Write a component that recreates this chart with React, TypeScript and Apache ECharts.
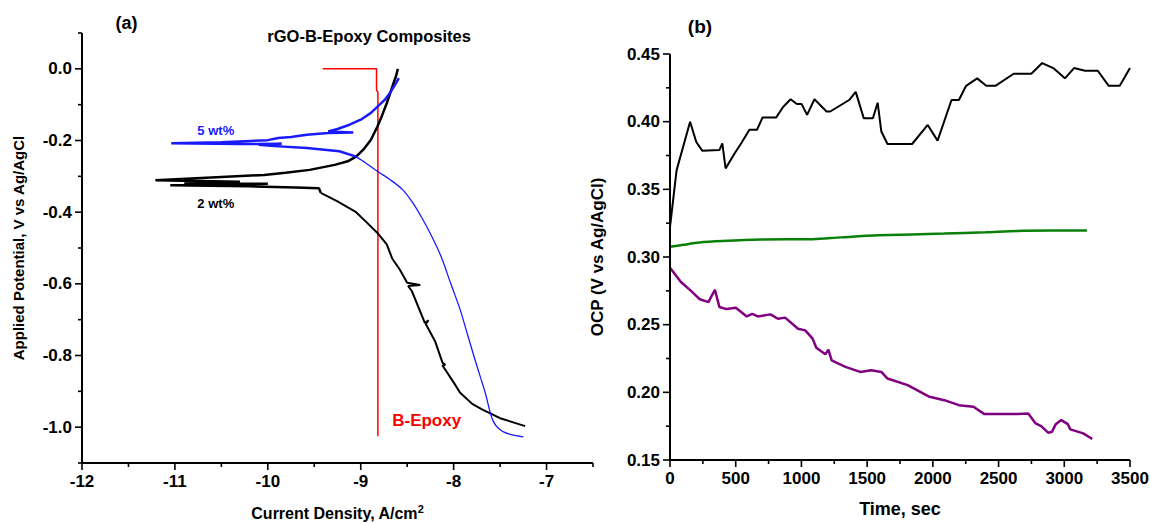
import React, { useEffect, useRef } from "react";
import * as echarts from "echarts";

const W = 1150;
const H = 523;
const FONT = '"Liberation Sans", Arial, sans-serif';

// ---- Panel (a): Tafel curves, x = log current density, y = potential ----
const redEpoxy: [number, number][] = [
  [-9.41, 0], [-8.83, 0], [-8.83, -0.06], [-8.815, -0.065], [-8.815, -1.025],
];

const blueAnodic: [number, number][] = [
  [-8.59, -0.026], [-8.62, -0.04], [-8.68, -0.065], [-8.74, -0.086], [-8.89, -0.123],
  [-9.0, -0.142], [-9.12, -0.156], [-9.25, -0.168], [-9.35, -0.175], [-9.08, -0.178],
  [-9.35, -0.179], [-9.58, -0.184], [-9.75, -0.19], [-9.89, -0.193], [-10.0, -0.199],
  [-10.5, -0.205], [-11.04, -0.208], [-10.3, -0.21], [-9.85, -0.209], [-10.1, -0.212],
  [-9.97, -0.215], [-9.58, -0.221], [-9.23, -0.23], [-9.05, -0.245],
];

const blueCathodic: [number, number][] = [
  [-9.05, -0.245], [-8.95, -0.262], [-8.82, -0.286], [-8.68, -0.31], [-8.55, -0.337],
  [-8.45, -0.37], [-8.35, -0.412], [-8.24, -0.465], [-8.13, -0.527], [-8.03, -0.6],
  [-7.93, -0.672], [-7.85, -0.742], [-7.77, -0.812], [-7.66, -0.904], [-7.58, -0.98],
  [-7.5, -1.007], [-7.38, -1.021], [-7.25, -1.027],
];

const blackAnodic: [number, number][] = [
  [-8.6, 0.0], [-8.62, -0.02], [-8.66, -0.05], [-8.72, -0.096], [-8.77, -0.13],
  [-8.82, -0.161], [-8.89, -0.198], [-8.97, -0.225], [-9.05, -0.245], [-9.14, -0.258],
  [-9.28, -0.268], [-9.55, -0.282], [-9.81, -0.29], [-10.04, -0.296], [-10.5, -0.302],
  [-11.21, -0.311], [-10.3, -0.315], [-10.9, -0.318], [-10.0, -0.321], [-11.05, -0.325],
  [-10.2, -0.328], [-9.7, -0.331], [-9.45, -0.333], [-9.43, -0.346],
];

const blackCathodic: [number, number][] = [
  [-9.43, -0.346], [-9.25, -0.37], [-9.05, -0.4], [-8.95, -0.425], [-8.82, -0.458],
  [-8.72, -0.49], [-8.66, -0.53], [-8.58, -0.56], [-8.5, -0.597], [-8.36, -0.603],
  [-8.49, -0.606], [-8.45, -0.62], [-8.31, -0.709], [-8.27, -0.702], [-8.3, -0.712],
  [-8.2, -0.76], [-8.12, -0.82], [-8.09, -0.826], [-8.12, -0.828], [-8.0, -0.875],
  [-7.93, -0.904], [-7.8, -0.935], [-7.69, -0.951], [-7.5, -0.975], [-7.23, -0.997],
];

// ---- Panel (b): OCP vs time ----
const ocpBlack: [number, number][] = [
  [0, 0.322], [50, 0.364], [153, 0.4], [200, 0.385], [245, 0.3786], [376, 0.379],
  [398, 0.384], [423, 0.3655], [495, 0.377], [542, 0.384], [604, 0.394], [662, 0.394],
  [704, 0.403], [807, 0.403], [862, 0.411], [918, 0.4166], [965, 0.413], [1002, 0.413],
  [1043, 0.405], [1099, 0.4166], [1191, 0.4075], [1219, 0.4075], [1363, 0.416],
  [1413, 0.422], [1474, 0.4026], [1544, 0.4026], [1580, 0.414], [1608, 0.3927],
  [1655, 0.3835], [1842, 0.3835], [1961, 0.3976], [2036, 0.386], [2142, 0.416],
  [2198, 0.416], [2253, 0.4265], [2337, 0.432], [2406, 0.4265], [2476, 0.4265],
  [2615, 0.4354], [2749, 0.4354], [2832, 0.4433], [2916, 0.4396], [3005, 0.432],
  [3074, 0.4396], [3158, 0.4376], [3255, 0.4376], [3338, 0.4265], [3422, 0.4265],
  [3500, 0.4396],
];

const ocpGreen: [number, number][] = [
  [0, 0.3075], [100, 0.309], [223, 0.3107], [400, 0.3118], [695, 0.3129], [1085, 0.3132],
  [1300, 0.3145], [1586, 0.316], [2087, 0.3173], [2400, 0.3183], [2643, 0.3193],
  [2900, 0.3195], [3172, 0.3195],
];

const ocpPurple: [number, number][] = [
  [0, 0.292], [83, 0.2815], [160, 0.275], [223, 0.269], [292, 0.2667], [312, 0.2704],
  [342, 0.2758], [376, 0.263], [430, 0.2615], [501, 0.2625], [584, 0.2561], [626, 0.258],
  [668, 0.2561], [765, 0.2576], [821, 0.2544], [876, 0.2552], [974, 0.247], [1029, 0.2458],
  [1085, 0.2397], [1113, 0.233], [1182, 0.2281], [1205, 0.2316], [1230, 0.2237],
  [1335, 0.2188], [1447, 0.2151], [1530, 0.2163], [1608, 0.2151], [1655, 0.2102],
  [1808, 0.2053], [1975, 0.1967], [2087, 0.1942], [2198, 0.1905], [2309, 0.1893],
  [2392, 0.1839], [2643, 0.1839], [2726, 0.1844], [2782, 0.177], [2824, 0.175],
  [2879, 0.1701], [2907, 0.1709], [2935, 0.1765], [2977, 0.1795], [3027, 0.1765],
  [3046, 0.1726], [3144, 0.1697], [3213, 0.1655],
];

// tick positions of each axis
const ticksXA = [-12, -11.5, -11, -10.5, -10, -9.5, -9, -8.5, -8, -7.5, -7, -6.5];
const ticksYA = [-1.1, -1.0, -0.9, -0.8, -0.7, -0.6, -0.5, -0.4, -0.3, -0.2, -0.1, 0.0, 0.1];
const ticksXB = [0, 250, 500, 750, 1000, 1250, 1500, 1750, 2000, 2250, 2500, 2750, 3000, 3250, 3500];
const ticksYB = [0.15, 0.175, 0.2, 0.225, 0.25, 0.275, 0.3, 0.325, 0.35, 0.375, 0.4, 0.425, 0.45];

// annotation texts, anchored in data coordinates
const labelsA = [
  { text: "(a)", at: [-11.52, 0.127], color: "#000", size: 18 },
  { text: "rGO-B-Epoxy Composites", at: [-8.91, 0.093], color: "#000", size: 16.5 },
  { text: "5 wt%", at: [-10.56, -0.171], color: "#1a1aff", size: 13 },
  { text: "2 wt%", at: [-10.56, -0.376], color: "#000", size: 13 },
  { text: "B-Epoxy", at: [-8.29, -0.981], color: "#ff0000", size: 17 },
];
const labelsB = [
  { text: "(b)", at: [228, 0.4704], color: "#000", size: 19 },
];

// panel layout (pixels) and axis ranges
const PA = { left: 82, top: 33, width: 511, height: 430, xMin: -12, xMax: -6.5, yMin: -1.1, yMax: 0.1 };
const PB = { left: 670, top: 54, width: 460, height: 406, xMin: 0, xMax: 3500, yMin: 0.15, yMax: 0.45 };

function toPx(p: typeof PA, v: number[]) {
  return [
    p.left + ((v[0] - p.xMin) / (p.xMax - p.xMin)) * p.width,
    p.top + ((p.yMax - v[1]) / (p.yMax - p.yMin)) * p.height,
  ];
}

const isMajor = (v: number, major: number) => Math.abs(v / major - Math.round(v / major)) < 1e-6;

function makeXAxis(gridIndex: number, p: typeof PA, interval: number, major: number, name: string, nameGap: number, nameSize: number, rich?: any) {
  const ax: any = {
    type: "value", gridIndex, min: p.xMin, max: p.xMax, interval,
    axisLine: { show: false, onZero: false },
    axisTick: { show: false },
    splitLine: { show: false },
    axisLabel: {
      color: "#000", fontWeight: "bold", fontSize: 17, fontFamily: FONT, margin: 10,
      formatter: (v: number) => (isMajor(v, major) ? String(Math.round(v)) : ""),
    },
    name, nameLocation: "middle", nameGap,
    nameTextStyle: { color: "#000", fontWeight: "bold", fontSize: nameSize, fontFamily: FONT },
  };
  if (rich) ax.nameTextStyle.rich = rich;
  return ax;
}

function makeYAxis(gridIndex: number, p: typeof PA, interval: number, major: number, digits: number, name: string, nameGap: number, nameSize: number) {
  return {
    type: "value", gridIndex, min: p.yMin, max: p.yMax, interval,
    axisLine: { show: false, onZero: false },
    axisTick: { show: false },
    splitLine: { show: false },
    axisLabel: {
      color: "#000", fontWeight: "bold", fontSize: 17, fontFamily: FONT, margin: 10,
      formatter: (v: number) => (isMajor(v, major) ? v.toFixed(digits) : ""),
    },
    name, nameLocation: "middle", nameGap,
    nameTextStyle: { color: "#000", fontWeight: "bold", fontSize: nameSize, fontFamily: FONT },
  };
}

// axis frame (left + bottom) drawn through the axes' own scales
function frameSeries(gi: number, p: typeof PA) {
  return {
    type: "line", xAxisIndex: gi, yAxisIndex: gi, silent: true, clip: false, z: 5,
    data: [[p.xMax, p.yMin], [p.xMin, p.yMin], [p.xMin, p.yMax]],
    showSymbol: false, lineStyle: { color: "#000", width: 2 }, emphasis: { disabled: true },
  };
}

function tickSeries(gi: number, p: typeof PA, values: number[], isX: boolean, major: number) {
  const make = (vals: number[], len: number) => ({
    type: "scatter", xAxisIndex: gi, yAxisIndex: gi, silent: true, clip: false, z: 5,
    data: vals.map((v) => (isX ? [v, p.yMin] : [p.xMin, v])),
    symbol: "rect",
    symbolSize: isX ? [1.6, len] : [len, 1.6],
    symbolOffset: isX ? [0, len / 2] : [-len / 2, 0],
    itemStyle: { color: "#000", opacity: 1 },
    emphasis: { disabled: true },
  });
  return [
    make(values.filter((v) => isMajor(v, major)), 7),
    make(values.filter((v) => !isMajor(v, major)), 4),
  ];
}

function textEl(p: typeof PA, l: any) {
  const [x, y] = toPx(p, l.at);
  return {
    type: "text", x, y, silent: true,
    style: {
      text: l.text, fill: l.color, fontSize: l.size, fontWeight: "bold", fontFamily: FONT,
      align: "center", verticalAlign: "middle",
    },
  };
}

export default function App() {
  const ref = useRef<HTMLDivElement>(null);
  useEffect(() => {
    const chart = echarts.init(ref.current!, null, { renderer: "svg", width: W, height: H });
    const supStyle = { color: "#000", fontWeight: "bold", fontSize: 11, fontFamily: FONT, verticalAlign: "bottom", padding: [0, 0, 10, 0] };
    const option: any = {
      animation: false,
      backgroundColor: "#fff",
      grid: [
        { left: PA.left, top: PA.top, width: PA.width, height: PA.height, outerBoundsMode: "none" },
        { left: PB.left, top: PB.top, width: PB.width, height: PB.height, outerBoundsMode: "none" },
      ],
      xAxis: [
        makeXAxis(0, PA, 0.5, 1, "Current Density, A/cm{sup|2}", 40, 16, { sup: supStyle }),
        makeXAxis(1, PB, 250, 500, "Time, sec", 40, 18),
      ],
      yAxis: [
        makeYAxis(0, PA, 0.1, 0.2, 1, "Applied Potential, V vs Ag/AgCl", 56, 15),
        makeYAxis(1, PB, 0.025, 0.05, 2, "OCP (V vs Ag/AgCl)", 64, 17),
      ],
      graphic: [...labelsA.map((l) => textEl(PA, l)), ...labelsB.map((l) => textEl(PB, l))],
      series: [
        { type: "line", xAxisIndex: 0, yAxisIndex: 0, data: redEpoxy, showSymbol: false, lineStyle: { color: "#ff0000", width: 1.5 } },
        { type: "line", xAxisIndex: 0, yAxisIndex: 0, data: blackAnodic, showSymbol: false, lineStyle: { color: "#000", width: 2.5 } },
        { type: "line", xAxisIndex: 0, yAxisIndex: 0, data: blackCathodic, showSymbol: false, lineStyle: { color: "#000", width: 2 } },
        { type: "line", xAxisIndex: 0, yAxisIndex: 0, data: blueAnodic, showSymbol: false, lineStyle: { color: "#1a1aff", width: 2.5 } },
        { type: "line", xAxisIndex: 0, yAxisIndex: 0, data: blueCathodic, showSymbol: false, smooth: 0.3, lineStyle: { color: "#1a1aff", width: 1.3 } },
        { type: "line", xAxisIndex: 1, yAxisIndex: 1, data: ocpBlack, showSymbol: false, lineStyle: { color: "#000", width: 2 } },
        { type: "line", xAxisIndex: 1, yAxisIndex: 1, data: ocpGreen, showSymbol: false, smooth: 0.3, lineStyle: { color: "#0a800a", width: 2.5 } },
        { type: "line", xAxisIndex: 1, yAxisIndex: 1, data: ocpPurple, showSymbol: false, lineStyle: { color: "#800080", width: 2.5 } },
        frameSeries(0, PA),
        frameSeries(1, PB),
        ...tickSeries(0, PA, ticksXA, true, 1),
        ...tickSeries(0, PA, ticksYA, false, 0.2),
        ...tickSeries(1, PB, ticksXB, true, 500),
        ...tickSeries(1, PB, ticksYB, false, 0.05),
      ],
    };
    chart.setOption(option);
    return () => chart.dispose();
  }, []);
  return (
    <div>
      <div ref={ref} style={{ position: "fixed", left: 0, top: 0, width: W, height: H }} />
    </div>
  );
}
